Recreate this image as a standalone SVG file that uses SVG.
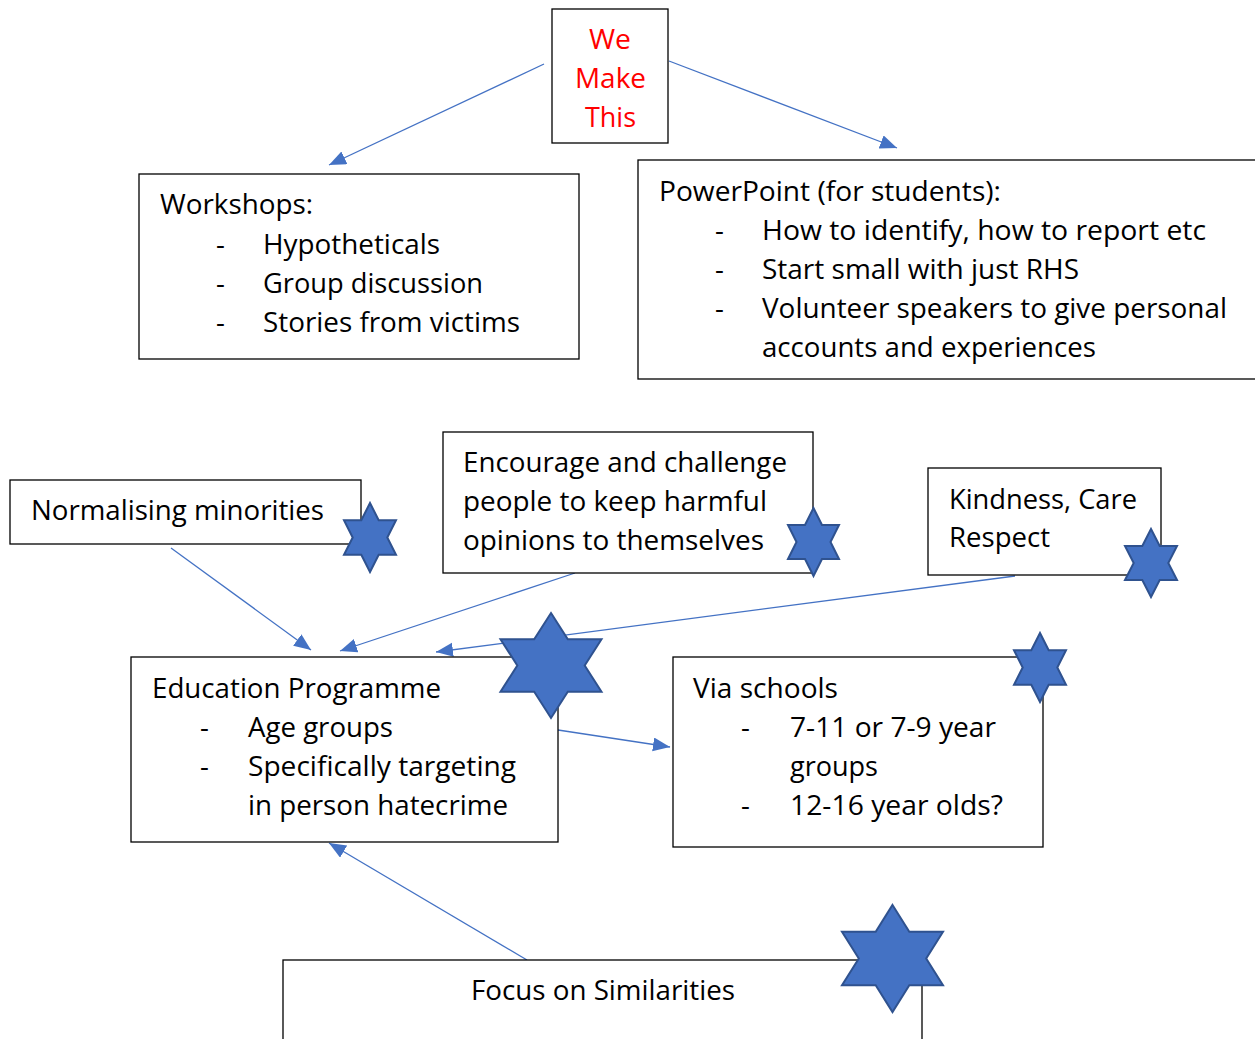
<svg xmlns="http://www.w3.org/2000/svg" width="1255" height="1039" viewBox="0 0 1255 1039">
<style>
.box{fill:#fff;stroke:#000;stroke-width:1.3}
.t{font-family:"Open Sans","Liberation Sans",sans-serif;font-size:27.5px;fill:#000}
.red{fill:#ff0000}
.star{fill:#4472c4;stroke:#2f528f;stroke-width:2;stroke-linejoin:miter}
.con{fill:none;stroke:#4472c4;stroke-width:1.3}
</style>
<defs>
<marker id="ah" markerUnits="userSpaceOnUse" markerWidth="20" markerHeight="16" refX="17" refY="7" orient="auto">
<path d="M0,0 L17,7 L0,14 z" fill="#4472c4"/>
</marker>
</defs>
<rect width="1255" height="1039" fill="#fff"/>

<g id="connectors">
<line class="con" x1="544" y1="64" x2="329" y2="165" marker-end="url(#ah)"/>
<line class="con" x1="669" y1="61" x2="897" y2="148" marker-end="url(#ah)"/>
<line class="con" x1="171" y1="548" x2="311" y2="650" marker-end="url(#ah)"/>
<line class="con" x1="575" y1="573" x2="340" y2="651" marker-end="url(#ah)"/>
<line class="con" x1="1015" y1="576" x2="436" y2="652" marker-end="url(#ah)"/>
<line class="con" x1="558" y1="730" x2="670" y2="747" marker-end="url(#ah)"/>
<line class="con" x1="527" y1="960" x2="329" y2="843" marker-end="url(#ah)"/>
</g>

<g id="we-make-this">
<rect class="box" x="552" y="9" width="116" height="134"/>
<text class="t red" x="589" y="49" textLength="42" lengthAdjust="spacingAndGlyphs">We</text>
<text class="t red" x="575" y="88" textLength="71" lengthAdjust="spacingAndGlyphs">Make</text>
<text class="t red" x="585" y="127" textLength="51" lengthAdjust="spacingAndGlyphs">This</text>
</g>

<g id="workshops">
<rect class="box" x="139" y="174" width="440" height="185"/>
<text class="t" x="160" y="214" textLength="153" lengthAdjust="spacingAndGlyphs">Workshops:</text>
<text class="t" x="216" y="254">-</text>
<text class="t" x="263" y="254" textLength="177" lengthAdjust="spacingAndGlyphs">Hypotheticals</text>
<text class="t" x="216" y="293">-</text>
<text class="t" x="263" y="293" textLength="220" lengthAdjust="spacingAndGlyphs">Group discussion</text>
<text class="t" x="216" y="332">-</text>
<text class="t" x="263" y="332" textLength="257" lengthAdjust="spacingAndGlyphs">Stories from victims</text>
</g>

<g id="powerpoint">
<rect class="box" x="638" y="160" width="640" height="219"/>
<text class="t" x="659" y="201" textLength="342" lengthAdjust="spacingAndGlyphs">PowerPoint (for students):</text>
<text class="t" x="715" y="240">-</text>
<text class="t" x="762" y="240" textLength="444" lengthAdjust="spacingAndGlyphs">How to identify, how to report etc</text>
<text class="t" x="715" y="279">-</text>
<text class="t" x="762" y="279" textLength="317" lengthAdjust="spacingAndGlyphs">Start small with just RHS</text>
<text class="t" x="715" y="318">-</text>
<text class="t" x="762" y="318" textLength="465" lengthAdjust="spacingAndGlyphs">Volunteer speakers to give personal</text>
<text class="t" x="762" y="357" textLength="334" lengthAdjust="spacingAndGlyphs">accounts and experiences</text>
</g>

<g id="normalising">
<rect class="box" x="10" y="480" width="351" height="64"/>
<text class="t" x="31" y="520" textLength="293" lengthAdjust="spacingAndGlyphs">Normalising minorities</text>
<path class="star" d="M370,503 L378.7,520.25 L396,520.25 L387.3,537.5 L396,554.75 L378.7,554.75 L370,572 L361.3,554.75 L344,554.75 L352.7,537.5 L344,520.25 L361.3,520.25 Z"/>
</g>

<g id="encourage">
<rect class="box" x="443" y="432" width="370" height="141"/>
<text class="t" x="463" y="472" textLength="324" lengthAdjust="spacingAndGlyphs">Encourage and challenge</text>
<text class="t" x="463" y="511" textLength="304" lengthAdjust="spacingAndGlyphs">people to keep harmful</text>
<text class="t" x="463" y="550" textLength="301" lengthAdjust="spacingAndGlyphs">opinions to themselves</text>
<path class="star" d="M813.5,508 L822,525 L839,525 L830.5,542 L839,559 L822,559 L813.5,576 L805,559 L788,559 L796.5,542 L788,525 L805,525 Z"/>
</g>

<g id="kindness">
<rect class="box" x="928" y="468" width="233" height="107"/>
<text class="t" x="949" y="509" textLength="188" lengthAdjust="spacingAndGlyphs">Kindness, Care</text>
<text class="t" x="949" y="547" textLength="101" lengthAdjust="spacingAndGlyphs">Respect</text>
<path class="star" d="M1151,529 L1159.7,546 L1177,546 L1168.3,563 L1177,580 L1159.7,580 L1151,597 L1142.3,580 L1125,580 L1133.7,563 L1125,546 L1142.3,546 Z"/>
</g>

<g id="education">
<rect class="box" x="131" y="657" width="427" height="185"/>
<text class="t" x="152" y="698" textLength="289" lengthAdjust="spacingAndGlyphs">Education Programme</text>
<text class="t" x="200" y="737">-</text>
<text class="t" x="248" y="737" textLength="145" lengthAdjust="spacingAndGlyphs">Age groups</text>
<text class="t" x="200" y="776">-</text>
<text class="t" x="248" y="776" textLength="268" lengthAdjust="spacingAndGlyphs">Specifically targeting</text>
<text class="t" x="248" y="815" textLength="260" lengthAdjust="spacingAndGlyphs">in person hatecrime</text>
<path class="star" d="M551,613 L567.8,639.25 L601.5,639.25 L584.7,665.5 L601.5,691.75 L567.8,691.75 L551,718 L534.2,691.75 L500.5,691.75 L517.3,665.5 L500.5,639.25 L534.2,639.25 Z"/>
</g>

<g id="via-schools">
<rect class="box" x="673" y="657" width="370" height="190"/>
<text class="t" x="693" y="698" textLength="145" lengthAdjust="spacingAndGlyphs">Via schools</text>
<text class="t" x="741" y="737">-</text>
<text class="t" x="790" y="737" textLength="206" lengthAdjust="spacingAndGlyphs">7-11 or 7-9 year</text>
<text class="t" x="790" y="776" textLength="88" lengthAdjust="spacingAndGlyphs">groups</text>
<text class="t" x="741" y="815">-</text>
<text class="t" x="790" y="815" textLength="213" lengthAdjust="spacingAndGlyphs">12-16 year olds?</text>
<path class="star" d="M1040,633 L1048.7,650.25 L1066,650.25 L1057.3,667.5 L1066,684.75 L1048.7,684.75 L1040,702 L1031.3,684.75 L1014,684.75 L1022.7,667.5 L1014,650.25 L1031.3,650.25 Z"/>
</g>

<g id="focus">
<rect class="box" x="283" y="960" width="639" height="100"/>
<text class="t" x="471" y="1000" textLength="264" lengthAdjust="spacingAndGlyphs">Focus on Similarities</text>
<path class="star" d="M892.5,905 L909.3,931.75 L943,931.75 L926.2,958.5 L943,985.25 L909.3,985.25 L892.5,1012 L875.7,985.25 L842,985.25 L858.8,958.5 L842,931.75 L875.7,931.75 Z"/>
</g>
</svg>
